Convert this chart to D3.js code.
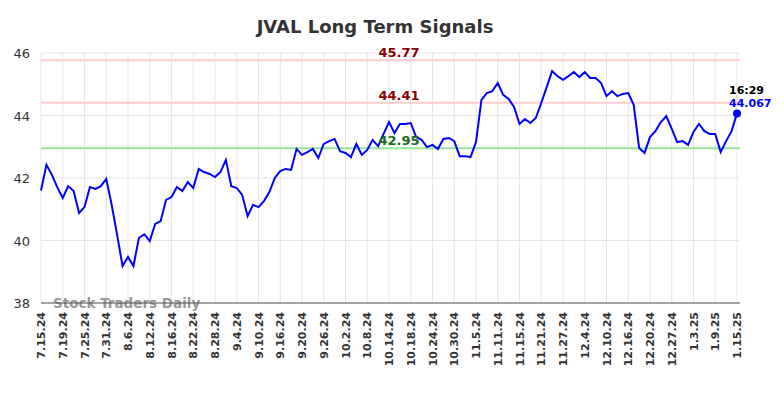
<!DOCTYPE html>
<html>
    <head>
        <meta charset="utf-8">
        <title>JVAL Long Term Signals</title>
        <script type="text/javascript" src="https://d3js.org/d3.v7.min.js"></script>
        <style>
            body { margin: 0; background: #fff; }
            text { font-family: "DejaVu Sans", sans-serif; }
        </style>
    </head>
    <body>
        <script type="text/javascript">
            let width = 784;
            let height = 398;

            // one label every 4 trading days
            let tickLabels = ['7.15.24', '7.19.24', '7.25.24', '7.31.24', '8.6.24', '8.12.24', '8.16.24', '8.22.24',
                '8.28.24', '9.4.24', '9.10.24', '9.16.24', '9.20.24', '9.26.24', '10.2.24', '10.8.24', '10.14.24',
                '10.18.24', '10.24.24', '10.30.24', '11.5.24', '11.11.24', '11.15.24', '11.21.24', '11.27.24',
                '12.4.24', '12.10.24', '12.16.24', '12.20.24', '12.27.24', '1.3.25', '1.9.25', '1.15.25'];

            let prices = [
                41.60, 42.42, 42.10, 41.70, 41.36, 41.74, 41.58, 40.88, 41.07, 41.71,
                41.65, 41.74, 41.97, 41.14, 40.18, 39.18, 39.47, 39.18, 40.08, 40.20,
                39.98, 40.53, 40.62, 41.30, 41.39, 41.71, 41.58, 41.87, 41.68, 42.29,
                42.19, 42.13, 42.03, 42.19, 42.58, 41.74, 41.68, 41.46, 40.78, 41.14,
                41.07, 41.26, 41.55, 42.00, 42.22, 42.29, 42.26, 42.93, 42.74, 42.83,
                42.93, 42.64, 43.09, 43.18, 43.25, 42.86, 42.80, 42.67, 43.09, 42.74,
                42.90, 43.22, 43.02, 43.41, 43.79, 43.44, 43.73, 43.73, 43.76, 43.31,
                43.22, 42.99, 43.06, 42.93, 43.25, 43.28, 43.18, 42.70, 42.70, 42.67,
                43.15, 44.50, 44.72, 44.78, 45.04, 44.66, 44.53, 44.27, 43.73, 43.89,
                43.76, 43.92, 44.40, 44.91, 45.42, 45.26, 45.14, 45.26, 45.39, 45.23,
                45.39, 45.20, 45.20, 45.04, 44.62, 44.78, 44.62, 44.69, 44.72, 44.34,
                42.96, 42.80, 43.31, 43.50, 43.79, 43.98, 43.57, 43.15, 43.18, 43.06,
                43.47, 43.73, 43.50, 43.41, 43.41, 42.83, 43.18, 43.50, 44.067
            ];

            let yTicks = [38, 40, 42, 44, 46];
            let signalLevels = [45.77, 44.41, 42.95];
            let signalColors = ['#ffcccc', '#ffcccc', '#99e699'];
            let signalTextColors = ['#8b0000', '#8b0000', '#1a6b1a'];
            let lastTime = '16:29';

            let margin = { top: 53, right: 44, bottom: 95, left: 41 };
            let plotW = width - margin.left - margin.right;
            let plotH = height - margin.top - margin.bottom;

            let svg = d3.select('body')
                .append('svg')
                .attr('width', width)
                .attr('height', height);

            let x = d3.scaleLinear()
                .domain([0, prices.length - 1])
                .range([margin.left, margin.left + plotW - 3]);

            let y = d3.scaleLinear()
                .domain([38, 46])
                .range([margin.top + plotH, margin.top]);

            let g = svg.append('g');

            // grid
            g.selectAll('.hgrid')
                .data(yTicks)
                .enter()
                .append('line')
                    .attr('x1', margin.left)
                    .attr('x2', margin.left + plotW)
                    .attr('y1', d => y(d))
                    .attr('y2', d => y(d))
                    .attr('stroke', '#e6e6e6')
                    .attr('stroke-width', 1);

            g.selectAll('.vgrid')
                .data(tickLabels)
                .enter()
                .append('line')
                    .attr('x1', (d, i) => x(i * 4))
                    .attr('x2', (d, i) => x(i * 4))
                    .attr('y1', margin.top)
                    .attr('y2', margin.top + plotH)
                    .attr('stroke', '#e6e6e6')
                    .attr('stroke-width', 1);

            // y labels
            g.selectAll('.ylab')
                .data(yTicks)
                .enter()
                .append('text')
                    .text(d => d)
                    .attr('x', 30)
                    .attr('y', d => y(d) + 5)
                    .attr('text-anchor', 'end')
                    .attr('font-size', 13)
                    .attr('fill', '#333');

            // x labels, rotated
            g.selectAll('.xlab')
                .data(tickLabels)
                .enter()
                .append('text')
                    .text(d => d)
                    .attr('transform', (d, i) => `translate(${x(i * 4) + 4},${margin.top + plotH + 9}) rotate(-90)`)
                    .attr('text-anchor', 'end')
                    .attr('font-size', 11)
                    .attr('font-weight', 'bold')
                    .attr('fill', '#333');

            // watermark
            g.append('text')
                .text('Stock Traders Daily')
                .attr('x', 53)
                .attr('y', margin.top + plotH + 5)
                .attr('font-size', 13.5)
                .attr('font-weight', 'bold')
                .attr('fill', '#999');

            // bottom axis line
            g.append('line')
                .attr('x1', margin.left)
                .attr('x2', margin.left + plotW)
                .attr('y1', margin.top + plotH)
                .attr('y2', margin.top + plotH)
                .attr('stroke', '#555')
                .attr('stroke-width', 1);

            // signal lines
            g.selectAll('.sig')
                .data(signalLevels)
                .enter()
                .append('line')
                    .attr('x1', margin.left)
                    .attr('x2', margin.left + plotW)
                    .attr('y1', d => y(d))
                    .attr('y2', d => y(d))
                    .attr('stroke', (d, i) => signalColors[i])
                    .attr('stroke-width', 2);

            // price line
            let line = d3.line()
                .x((d, i) => x(i))
                .y(d => y(d));

            g.append('path')
                .datum(prices)
                .attr('d', line)
                .attr('fill', 'none')
                .attr('stroke', '#0000ff')
                .attr('stroke-width', 2);

            // signal labels
            g.selectAll('.siglab')
                .data(signalLevels)
                .enter()
                .append('text')
                    .text(d => d.toFixed(2))
                    .attr('x', 399)
                    .attr('y', d => y(d) - 3)
                    .attr('text-anchor', 'middle')
                    .attr('font-size', 13)
                    .attr('font-weight', 'bold')
                    .attr('fill', (d, i) => signalTextColors[i]);

            // last point
            let last = prices.length - 1;
            g.append('circle')
                .attr('cx', x(last))
                .attr('cy', y(prices[last]))
                .attr('r', 4)
                .attr('fill', '#0000ff');

            g.append('text')
                .text(lastTime)
                .attr('x', x(last) - 8)
                .attr('y', y(prices[last]) - 19)
                .attr('font-size', 11)
                .attr('font-weight', 'bold')
                .attr('fill', '#000');

            g.append('text')
                .text(prices[last].toFixed(3))
                .attr('x', x(last) - 8)
                .attr('y', y(prices[last]) - 6)
                .attr('font-size', 11)
                .attr('font-weight', 'bold')
                .attr('fill', '#0000ff');

            // title
            svg.append('text')
                .text('JVAL Long Term Signals')
                .attr('x', 375)
                .attr('y', 33)
                .attr('text-anchor', 'middle')
                .attr('font-size', 18)
                .attr('font-weight', 'bold')
                .attr('fill', '#333');
        </script>
    </body>
</html>
